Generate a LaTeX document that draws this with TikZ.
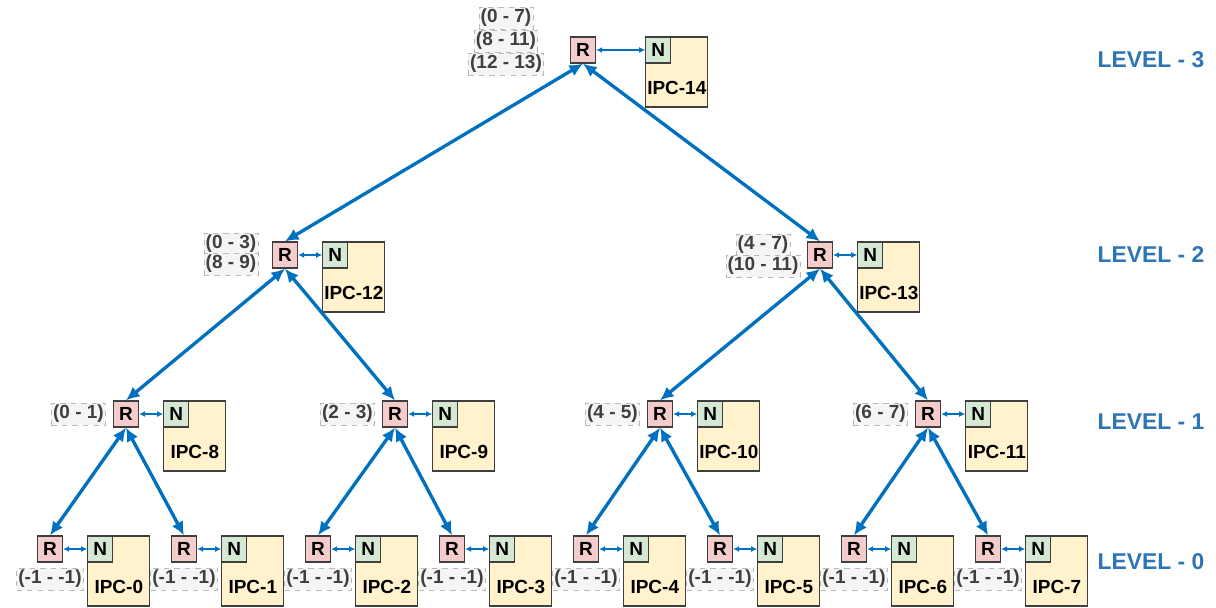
\documentclass[tikz,border=0pt]{standalone}
\usepackage{fontspec}
\setmainfont{Liberation Sans}
\usetikzlibrary{positioning, arrows.meta}
\definecolor{linkblue}{HTML}{0070C0}
\definecolor{levelblue}{HTML}{2E75B6}
\definecolor{rpink}{HTML}{F4CCCC}
\definecolor{ngreen}{HTML}{D5E8D4}
\definecolor{ipcyellow}{HTML}{FFF2CC}
\definecolor{edgegray}{HTML}{3F3F3F}
\tikzset{router/.style={draw=edgegray, line width=0.75pt, fill=rpink, minimum width=0.5cm, minimum height=0.52cm, inner sep=0pt, font=\fontsize{10.8}{12}\selectfont\bfseries},
    nic/.style={router, fill=ngreen},
    ipc/.style={draw=edgegray, line width=0.75pt, fill=ipcyellow, minimum width=1.24cm, minimum height=1.4cm, inner sep=0pt},
    ipcname/.style={font=\fontsize{10.8}{12}\selectfont\bfseries, inner sep=0pt},
    addrbox/.style={draw=gray!55, dashed, fill=gray!8, text=edgegray, font=\fontsize{10.8}{12}\selectfont\bfseries, inner xsep=1pt, inner ysep=0.5pt, minimum height=0.44cm},
    levelname/.style={text=levelblue, font=\fontsize{13}{15}\selectfont\bfseries},
    tree/.style={linkblue, line width=1.9pt, {Latex[length=0.27cm,width=0.25cm]}-{Latex[length=0.27cm,width=0.25cm]}},
    link/.style={linkblue, line width=0.8pt, {Latex[length=0.12cm,width=0.12cm]}-{Latex[length=0.12cm,width=0.12cm]}}}

\begin{document}
\begin{tikzpicture}[x=0.02cm, y=-0.02cm]
    \useasboundingbox (0,0) rectangle (1216,608);

    % router, its IPC process and the N port, one per IPC
    \foreach \i/\x/\y/\g in {0/50/549/0.48, 1/184/549/0.48, 2/318/549/0.48, 3/452/549/0.48,
                              4/586/549/0.48, 5/720/549/0.48, 6/854/549/0.48, 7/988/549/0.48,
                              8/126/414/0.48, 9/395/414/0.48, 10/660/414/0.48, 11/928/414/0.48,
                              12/285/255/0.48, 13/820/255/0.48, 14/583/50/0.98} {
        \node[router] (r\i) at (\x,\y) {R};
        \node[ipc, below right=0cm and \g cm of r\i.north east] (p\i) {};
        \node[nic, anchor=north west] (n\i) at (p\i.north west) {N};
        \node[ipcname] (t\i) at ([yshift=0.4cm]p\i.south) {IPC-\i};
        \draw[link] (r\i) -- (n\i);
    }

    % tree links
    \foreach \a/\b in {14/12, 14/13, 12/8, 12/9, 13/10, 13/11, 8/0, 8/1, 9/2, 9/3, 10/4, 10/5, 11/6, 11/7}
        \draw[tree] (r\a.south) -- (r\b.north);

    % address ranges
    \node[addrbox] (a14) at (506,18) {(0 - 7)};
    \node[addrbox] (b14) at (506,41) {(8 - 11)};
    \node[addrbox] (c14) at (506,64) {(12 - 13)};
    \node[addrbox] (a12) at (231,244) {(0 - 3)};
    \node[addrbox] (b12) at (231,264) {(8 - 9)};
    \node[addrbox] (a13) at (763,245) {(4 - 7)};
    \node[addrbox] (b13) at (763,266) {(10 - 11)};
    \node[addrbox, left=0.14cm of r8] (a8) {(0 - 1)};
    \node[addrbox, left=0.14cm of r9] (a9) {(2 - 3)};
    \node[addrbox, left=0.14cm of r10] (a10) {(4 - 5)};
    \node[addrbox, left=0.14cm of r11] (a11) {(6 - 7)};
    \foreach \i in {0,...,7}
        \node[addrbox, below=0.1cm of r\i] (a\i) {(-1 - -1)};

    % level names
    \node[levelname] (lv3) at (1151,60) {LEVEL - 3};
    \node[levelname] (lv2) at (1151,255) {LEVEL - 2};
    \node[levelname] (lv1) at (1151,422) {LEVEL - 1};
    \node[levelname] (lv0) at (1151,562) {LEVEL - 0};
\end{tikzpicture}
\end{document}
